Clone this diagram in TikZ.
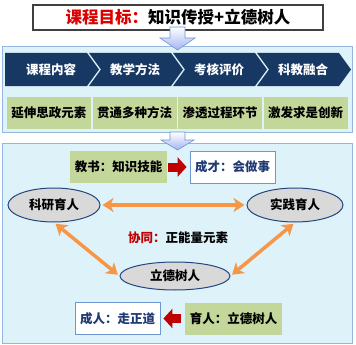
\documentclass[tikz,border=0pt]{standalone}
\usepackage{fontspec}
\setmainfont{Noto Sans CJK SC}
\usepackage{xcolor}
\usepackage{tikz}
\usetikzlibrary{shapes.geometric, arrows.meta, calc, positioning}
\definecolor{navy}{RGB}{24,56,100}
\definecolor{panelblue}{RGB}{222,242,250}
\definecolor{panelline}{RGB}{146,184,226}
\definecolor{leafgreen}{RGB}{196,215,155}
\definecolor{boxblue}{RGB}{110,150,210}
\definecolor{textblue}{RGB}{31,58,115}
\definecolor{goalred}{RGB}{220,0,0}
\definecolor{darkred}{RGB}{192,0,0}
\definecolor{linkorange}{RGB}{247,150,70}
\definecolor{ovalgray}{RGB}{217,217,217}
\definecolor{ovalline}{RGB}{35,70,130}

\begin{document}
\begin{tikzpicture}[x=1pt, y=-1pt,
    panel/.style={rectangle, draw=panelline, fill=panelblue, line width=1pt, inner sep=0pt},
    greenbox/.style={rectangle, fill=leafgreen, minimum height=32pt, inner sep=0pt, font=\bfseries\fontsize{12.5}{14}\selectfont},
    whitebox/.style={rectangle, draw=boxblue, fill=white, line width=0.8pt, minimum height=32pt, inner sep=0pt, text=textblue, font=\bfseries\fontsize{12.5}{14}\selectfont},
    oval/.style={ellipse, draw=ovalline, fill=ovalgray, line width=1pt, inner sep=0pt, font=\bfseries\fontsize{12.5}{14}\selectfont},
    chevtext/.style={text=white, font=\bfseries\fontsize{12.5}{14}\selectfont},
    link/.style={{Stealth[length=11pt,width=14pt,inset=3pt]}-{Stealth[length=11pt,width=14pt,inset=3pt]}, line width=3.5pt, linkorange, shorten <=2pt, shorten >=2pt},
    redarrow/.style={-{Triangle[length=9pt,width=19pt]}, line width=9pt, darkred},
    bluearrow/.style={draw=boxblue, line width=0.6pt, top color=white, bottom color=panelline!70!blue!60}
]
\useasboundingbox (0,0) rectangle (356,345);
\node[panel, minimum width=350pt, minimum height=85pt] (p1) at (177,89.5) {};
\node[panel, minimum width=350pt, minimum height=200pt] (p2) at (177,243) {};

\node[rectangle, draw=black!75, fill=white, line width=1.5pt, minimum width=290pt, minimum height=25pt, inner sep=0pt, font=\bfseries\fontsize{16.5}{18}\selectfont] (goal) at (178,17.5) {\textcolor{goalred}{课程目标：}知识传授+立德树人};

\path[bluearrow] (170,27) -- (185,27) -- (185,38) -- (195,38) -- (177.5,50) -- (160,38) -- (170,38) -- cycle;
\path[bluearrow] (170,132) -- (185,132) -- (185,140) -- (194,140) -- (177.5,150) -- (161,140) -- (170,140) -- cycle;

\foreach \k/\t in {0/课程内容, 1/教学方法, 2/考核评价, 3/科教融合} {
    \pgfmathsetmacro{\a}{5+84*\k}
    \pgfmathsetmacro{\b}{5+84*(\k+1)}
    \pgfmathsetmacro{\n}{\k>0 ? 12 : 0}
    \fill[navy] (\a,53) -- (\b-2,53) -- (\b+10,69.5) -- (\b-2,86) -- (\a,86) -- (\a+\n,69.5) -- cycle;
    \node[chevtext] (c\k) at ({(\a+\b)/2+4},69.5) {\t};
}

\foreach \k/\t in {0/延伸思政元素, 1/贯通多种方法, 2/渗透过程环节, 3/激发求是创新} {
    \node[greenbox, minimum width=84pt] (g\k) at ({49+85.5*\k},112.5) {\t};
}

\node[greenbox, minimum width=97pt] (jiaoshu) at (118.5,167) {教书：知识技能};
\node[whitebox, minimum width=85pt] (chengcai) at (232.5,167) {成才：会做事};
\draw[redarrow, shorten <=1pt, shorten >=3pt] (jiaoshu) -- (chengcai);

\node[oval, minimum width=92pt, minimum height=34pt] (keyan) at (54,205) {科研育人};
\node[oval, minimum width=96pt, minimum height=34pt] (shijian) at (295,205) {实践育人};
\node[oval, minimum width=110pt, minimum height=28pt] (lide) at (175,276) {立德树人};

\draw[link] (keyan.east) -- (shijian.west);
\draw[link] (keyan.south) -- (lide.west);
\draw[link] (shijian.south) -- (lide.east);

\node[font=\bfseries\fontsize{12.5}{14}\selectfont] (xietong) at (178,238) {\textcolor{darkred}{协同：}正能量元素};

\node[whitebox, minimum width=85pt] (chengren) at (117.5,318.5) {成人：走正道};
\node[greenbox, minimum width=97pt] (yuren) at (233.5,318.5) {育人：立德树人};
\draw[redarrow, shorten <=4pt, shorten >=3pt] (yuren) -- (chengren);
\end{tikzpicture}
\end{document}
